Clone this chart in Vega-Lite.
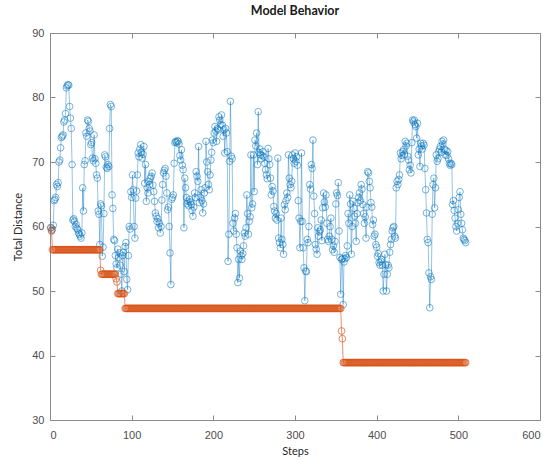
{
"$schema": "https://vega.github.io/schema/vega-lite/v6.json",
"width": 490, "height": 387,
"autosize": "none",
"padding": {"left": 50, "top": 33, "right": 15, "bottom": 42},
"title": {"text": "Model Behavior", "font": "Lato", "fontSize": 12.5, "fontWeight": "bold", "color": "#1a1a1a", "offset": 10},
"config": {
  "view": {"stroke": "#8c8c8c", "strokeWidth": 1},
  "axis": {"domain": false, "grid": false, "tickColor": "#8c8c8c", "tickSize": -5, "labelFont": "Liberation Sans", "labelFontSize": 11, "labelColor": "#4d4d4d", "titleFont": "Lato", "titleFontSize": 11, "titleFontWeight": "normal", "titleColor": "#262626"}
},
"data": {"values": [
{"s":1,"b":59.8,"o":59.8},{"s":2,"b":59.4,"o":59.3},{"s":3,"b":59.6,"o":56.4},{"s":4,"b":60.2,"o":56.4},{"s":5,"b":64.0,"o":56.4},{"s":6,"b":64.2,"o":56.4},{"s":7,"b":64.5,"o":56.4},{"s":8,"b":66.5,"o":56.4},{"s":9,"b":66.2,"o":56.4},{"s":10,"b":66.8,"o":56.4},
{"s":11,"b":70.0,"o":56.4},{"s":12,"b":70.3,"o":56.4},{"s":13,"b":72.2,"o":56.4},{"s":14,"b":73.8,"o":56.4},{"s":15,"b":74.0,"o":56.4},{"s":16,"b":74.2,"o":56.4},{"s":17,"b":76.2,"o":56.4},{"s":18,"b":76.5,"o":56.4},{"s":19,"b":77.5,"o":56.4},{"s":20,"b":81.5,"o":56.4},
{"s":21,"b":81.8,"o":56.4},{"s":22,"b":82.0,"o":56.4},{"s":23,"b":81.9,"o":56.4},{"s":24,"b":78.6,"o":56.4},{"s":25,"b":76.8,"o":56.4},{"s":26,"b":75.2,"o":56.4},{"s":27,"b":69.6,"o":56.4},{"s":28,"b":61.0,"o":56.4},{"s":29,"b":61.2,"o":56.4},{"s":30,"b":60.8,"o":56.4},
{"s":31,"b":60.0,"o":56.4},{"s":32,"b":60.3,"o":56.4},{"s":33,"b":59.7,"o":56.4},{"s":34,"b":59.5,"o":56.4},{"s":35,"b":59.0,"o":56.4},{"s":36,"b":58.8,"o":56.4},{"s":37,"b":58.5,"o":56.4},{"s":38,"b":58.2,"o":56.4},{"s":39,"b":59.0,"o":56.4},{"s":40,"b":66.0,"o":56.4},
{"s":41,"b":62.4,"o":56.4},{"s":42,"b":69.6,"o":56.4},{"s":43,"b":70.2,"o":56.4},{"s":44,"b":74.5,"o":56.4},{"s":45,"b":74.0,"o":56.4},{"s":46,"b":76.5,"o":56.4},{"s":47,"b":76.3,"o":56.4},{"s":48,"b":75.2,"o":56.4},{"s":49,"b":74.8,"o":56.4},{"s":50,"b":72.7,"o":56.4},
{"s":51,"b":73.0,"o":56.4},{"s":52,"b":70.6,"o":56.4},{"s":53,"b":70.2,"o":56.4},{"s":54,"b":74.2,"o":56.4},{"s":55,"b":70.5,"o":56.4},{"s":56,"b":69.8,"o":56.4},{"s":57,"b":68.0,"o":56.4},{"s":58,"b":67.5,"o":56.4},{"s":59,"b":62.4,"o":56.4},{"s":60,"b":61.9,"o":56.4},
{"s":61,"b":57.2,"o":56.4},{"s":62,"b":63.5,"o":53.2},{"s":63,"b":63.2,"o":52.6},{"s":64,"b":55.4,"o":52.6},{"s":65,"b":56.8,"o":52.6},{"s":66,"b":62.0,"o":52.6},{"s":67,"b":71.1,"o":52.6},{"s":68,"b":70.8,"o":52.6},{"s":69,"b":69.2,"o":52.6},{"s":70,"b":69.0,"o":52.6},
{"s":71,"b":69.6,"o":52.6},{"s":72,"b":69.3,"o":52.6},{"s":73,"b":75.2,"o":52.6},{"s":74,"b":78.9,"o":52.6},{"s":75,"b":78.6,"o":52.6},{"s":76,"b":64.9,"o":52.6},{"s":77,"b":62.8,"o":52.6},{"s":78,"b":58.0,"o":52.6},{"s":79,"b":57.8,"o":52.6},{"s":80,"b":55.5,"o":52.6},
{"s":81,"b":54.2,"o":51.9},{"s":82,"b":53.6,"o":51.4},{"s":83,"b":56.5,"o":49.6},{"s":84,"b":55.2,"o":49.6},{"s":85,"b":55.9,"o":49.6},{"s":86,"b":54.0,"o":49.6},{"s":87,"b":52.6,"o":49.6},{"s":88,"b":50.0,"o":49.6},{"s":89,"b":55.5,"o":49.6},{"s":90,"b":56.0,"o":49.6},
{"s":91,"b":53.0,"o":49.6},{"s":92,"b":56.9,"o":47.3},{"s":93,"b":57.5,"o":47.3},{"s":94,"b":51.8,"o":47.3},{"s":95,"b":50.2,"o":47.3},{"s":96,"b":55.5,"o":47.3},{"s":97,"b":60.0,"o":47.3},{"s":98,"b":59.6,"o":47.3},{"s":99,"b":65.4,"o":47.3},{"s":100,"b":64.5,"o":47.3},
{"s":101,"b":68.0,"o":47.3},{"s":102,"b":65.7,"o":47.3},{"s":103,"b":60.0,"o":47.3},{"s":104,"b":58.2,"o":47.3},{"s":105,"b":64.4,"o":47.3},{"s":106,"b":65.5,"o":47.3},{"s":107,"b":68.0,"o":47.3},{"s":108,"b":71.4,"o":47.3},{"s":109,"b":70.8,"o":47.3},{"s":110,"b":72.0,"o":47.3},
{"s":111,"b":72.7,"o":47.3},{"s":112,"b":71.5,"o":47.3},{"s":113,"b":70.6,"o":47.3},{"s":114,"b":71.2,"o":47.3},{"s":115,"b":72.4,"o":47.3},{"s":116,"b":66.7,"o":47.3},{"s":117,"b":69.6,"o":47.3},{"s":118,"b":63.9,"o":47.3},{"s":119,"b":66.0,"o":47.3},{"s":120,"b":65.2,"o":47.3},
{"s":121,"b":67.0,"o":47.3},{"s":122,"b":66.5,"o":47.3},{"s":123,"b":67.5,"o":47.3},{"s":124,"b":67.8,"o":47.3},{"s":125,"b":68.3,"o":47.3},{"s":126,"b":66.4,"o":47.3},{"s":127,"b":65.4,"o":47.3},{"s":128,"b":63.9,"o":47.3},{"s":129,"b":62.1,"o":47.3},{"s":130,"b":61.6,"o":47.3},
{"s":131,"b":60.8,"o":47.3},{"s":132,"b":61.2,"o":47.3},{"s":133,"b":59.8,"o":47.3},{"s":134,"b":60.5,"o":47.3},{"s":135,"b":59.0,"o":47.3},{"s":136,"b":60.0,"o":47.3},{"s":137,"b":64.1,"o":47.3},{"s":138,"b":66.5,"o":47.3},{"s":139,"b":68.3,"o":47.3},{"s":140,"b":68.7,"o":47.3},
{"s":141,"b":69.0,"o":47.3},{"s":142,"b":67.8,"o":47.3},{"s":143,"b":65.2,"o":47.3},{"s":144,"b":62.6,"o":47.3},{"s":145,"b":63.0,"o":47.3},{"s":146,"b":60.0,"o":47.3},{"s":147,"b":55.9,"o":47.3},{"s":148,"b":51.0,"o":47.3},{"s":149,"b":64.2,"o":47.3},{"s":150,"b":64.5,"o":47.3},
{"s":151,"b":64.9,"o":47.3},{"s":152,"b":69.8,"o":47.3},{"s":153,"b":73.0,"o":47.3},{"s":154,"b":73.2,"o":47.3},{"s":155,"b":73.0,"o":47.3},{"s":156,"b":73.3,"o":47.3},{"s":157,"b":73.2,"o":47.3},{"s":158,"b":72.8,"o":47.3},{"s":159,"b":71.0,"o":47.3},{"s":160,"b":70.3,"o":47.3},
{"s":161,"b":71.9,"o":47.3},{"s":162,"b":69.5,"o":47.3},{"s":163,"b":68.8,"o":47.3},{"s":164,"b":59.8,"o":47.3},{"s":165,"b":67.5,"o":47.3},{"s":166,"b":66.0,"o":47.3},{"s":167,"b":64.5,"o":47.3},{"s":168,"b":63.5,"o":47.3},{"s":169,"b":63.9,"o":47.3},{"s":170,"b":63.2,"o":47.3},
{"s":171,"b":64.2,"o":47.3},{"s":172,"b":63.8,"o":47.3},{"s":173,"b":63.4,"o":47.3},{"s":174,"b":62.5,"o":47.3},{"s":175,"b":61.6,"o":47.3},{"s":176,"b":63.0,"o":47.3},{"s":177,"b":65.2,"o":47.3},{"s":178,"b":64.5,"o":47.3},{"s":179,"b":68.5,"o":47.3},{"s":180,"b":67.8,"o":47.3},
{"s":181,"b":67.0,"o":47.3},{"s":182,"b":72.4,"o":47.3},{"s":183,"b":63.7,"o":47.3},{"s":184,"b":64.5,"o":47.3},{"s":185,"b":65.7,"o":47.3},{"s":186,"b":64.0,"o":47.3},{"s":187,"b":62.1,"o":47.3},{"s":188,"b":63.5,"o":47.3},{"s":189,"b":65.2,"o":47.3},{"s":190,"b":66.0,"o":47.3},
{"s":191,"b":73.2,"o":47.3},{"s":192,"b":70.0,"o":47.3},{"s":193,"b":68.5,"o":47.3},{"s":194,"b":66.5,"o":47.3},{"s":195,"b":65.7,"o":47.3},{"s":196,"b":68.0,"o":47.3},{"s":197,"b":70.3,"o":47.3},{"s":198,"b":71.5,"o":47.3},{"s":199,"b":73.4,"o":47.3},{"s":200,"b":73.0,"o":47.3},
{"s":201,"b":74.5,"o":47.3},{"s":202,"b":75.5,"o":47.3},{"s":203,"b":74.8,"o":47.3},{"s":204,"b":73.2,"o":47.3},{"s":205,"b":75.2,"o":47.3},{"s":206,"b":75.0,"o":47.3},{"s":207,"b":77.0,"o":47.3},{"s":208,"b":76.5,"o":47.3},{"s":209,"b":75.8,"o":47.3},{"s":210,"b":77.3,"o":47.3},
{"s":211,"b":75.7,"o":47.3},{"s":212,"b":74.0,"o":47.3},{"s":213,"b":75.0,"o":47.3},{"s":214,"b":71.4,"o":47.3},{"s":215,"b":75.2,"o":47.3},{"s":216,"b":74.5,"o":47.3},{"s":217,"b":71.6,"o":47.3},{"s":218,"b":54.6,"o":47.3},{"s":219,"b":58.8,"o":47.3},{"s":220,"b":70.1,"o":47.3},
{"s":221,"b":79.4,"o":47.3},{"s":222,"b":70.9,"o":47.3},{"s":223,"b":70.5,"o":47.3},{"s":224,"b":60.5,"o":47.3},{"s":225,"b":59.3,"o":47.3},{"s":226,"b":61.3,"o":47.3},{"s":227,"b":62.0,"o":47.3},{"s":228,"b":58.8,"o":47.3},{"s":229,"b":56.7,"o":47.3},{"s":230,"b":51.3,"o":47.3},
{"s":231,"b":54.9,"o":47.3},{"s":232,"b":52.0,"o":47.3},{"s":233,"b":56.2,"o":47.3},{"s":234,"b":55.5,"o":47.3},{"s":235,"b":54.9,"o":47.3},{"s":236,"b":55.8,"o":47.3},{"s":237,"b":57.0,"o":47.3},{"s":238,"b":59.0,"o":47.3},{"s":239,"b":58.5,"o":47.3},{"s":240,"b":59.8,"o":47.3},
{"s":241,"b":64.9,"o":47.3},{"s":242,"b":62.0,"o":47.3},{"s":243,"b":58.8,"o":47.3},{"s":244,"b":60.8,"o":47.3},{"s":245,"b":61.5,"o":47.3},{"s":246,"b":71.1,"o":47.3},{"s":247,"b":62.9,"o":47.3},{"s":248,"b":63.5,"o":47.3},{"s":249,"b":71.1,"o":47.3},{"s":250,"b":65.4,"o":47.3},
{"s":251,"b":73.4,"o":47.3},{"s":252,"b":72.5,"o":47.3},{"s":253,"b":74.5,"o":47.3},{"s":254,"b":69.6,"o":47.3},{"s":255,"b":77.8,"o":47.3},{"s":256,"b":71.5,"o":47.3},{"s":257,"b":72.0,"o":47.3},{"s":258,"b":71.1,"o":47.3},{"s":259,"b":70.5,"o":47.3},{"s":260,"b":71.0,"o":47.3},
{"s":261,"b":71.6,"o":47.3},{"s":262,"b":70.8,"o":47.3},{"s":263,"b":69.8,"o":47.3},{"s":264,"b":68.8,"o":47.3},{"s":265,"b":68.0,"o":47.3},{"s":266,"b":67.4,"o":47.3},{"s":267,"b":72.1,"o":47.3},{"s":268,"b":70.5,"o":47.3},{"s":269,"b":69.6,"o":47.3},{"s":270,"b":67.5,"o":47.3},
{"s":271,"b":64.9,"o":47.3},{"s":272,"b":66.2,"o":47.3},{"s":273,"b":65.5,"o":47.3},{"s":274,"b":63.1,"o":47.3},{"s":275,"b":62.4,"o":47.3},{"s":276,"b":61.3,"o":47.3},{"s":277,"b":62.0,"o":47.3},{"s":278,"b":61.0,"o":47.3},{"s":279,"b":70.6,"o":47.3},{"s":280,"b":58.2,"o":47.3},
{"s":281,"b":57.5,"o":47.3},{"s":282,"b":56.7,"o":47.3},{"s":283,"b":61.3,"o":47.3},{"s":284,"b":58.0,"o":47.3},{"s":285,"b":57.2,"o":47.3},{"s":286,"b":55.7,"o":47.3},{"s":287,"b":63.4,"o":47.3},{"s":288,"b":62.6,"o":47.3},{"s":289,"b":64.0,"o":47.3},{"s":290,"b":65.2,"o":47.3},
{"s":291,"b":64.5,"o":47.3},{"s":292,"b":71.1,"o":47.3},{"s":293,"b":67.5,"o":47.3},{"s":294,"b":66.5,"o":47.3},{"s":295,"b":66.0,"o":47.3},{"s":296,"b":67.0,"o":47.3},{"s":297,"b":71.1,"o":47.3},{"s":298,"b":70.5,"o":47.3},{"s":299,"b":69.8,"o":47.3},{"s":300,"b":71.4,"o":47.3},
{"s":301,"b":70.1,"o":47.3},{"s":302,"b":70.8,"o":47.3},{"s":303,"b":69.5,"o":47.3},{"s":304,"b":64.0,"o":47.3},{"s":305,"b":61.3,"o":47.3},{"s":306,"b":56.7,"o":47.3},{"s":307,"b":60.8,"o":47.3},{"s":308,"b":71.4,"o":47.3},{"s":309,"b":60.8,"o":47.3},{"s":310,"b":56.7,"o":47.3},
{"s":311,"b":53.6,"o":47.3},{"s":312,"b":48.5,"o":47.3},{"s":313,"b":53.1,"o":47.3},{"s":314,"b":53.0,"o":47.3},{"s":315,"b":58.0,"o":47.3},{"s":316,"b":57.5,"o":47.3},{"s":317,"b":60.0,"o":47.3},{"s":318,"b":66.5,"o":47.3},{"s":319,"b":65.8,"o":47.3},{"s":320,"b":69.6,"o":47.3},
{"s":321,"b":69.0,"o":47.3},{"s":322,"b":73.4,"o":47.3},{"s":323,"b":64.7,"o":47.3},{"s":324,"b":62.0,"o":47.3},{"s":325,"b":57.2,"o":47.3},{"s":326,"b":56.5,"o":47.3},{"s":327,"b":55.7,"o":47.3},{"s":328,"b":59.8,"o":47.3},{"s":329,"b":58.5,"o":47.3},{"s":330,"b":59.2,"o":47.3},
{"s":331,"b":59.5,"o":47.3},{"s":332,"b":61.0,"o":47.3},{"s":333,"b":57.8,"o":47.3},{"s":334,"b":62.9,"o":47.3},{"s":335,"b":65.2,"o":47.3},{"s":336,"b":63.8,"o":47.3},{"s":337,"b":63.0,"o":47.3},{"s":338,"b":64.9,"o":47.3},{"s":339,"b":60.5,"o":47.3},{"s":340,"b":58.0,"o":47.3},
{"s":341,"b":57.7,"o":47.3},{"s":342,"b":58.5,"o":47.3},{"s":343,"b":60.0,"o":47.3},{"s":344,"b":61.3,"o":47.3},{"s":345,"b":58.0,"o":47.3},{"s":346,"b":56.4,"o":47.3},{"s":347,"b":57.0,"o":47.3},{"s":348,"b":56.0,"o":47.3},{"s":349,"b":57.7,"o":47.3},{"s":350,"b":63.5,"o":47.3},
{"s":351,"b":65.2,"o":47.3},{"s":352,"b":64.8,"o":47.3},{"s":353,"b":66.8,"o":47.3},{"s":354,"b":59.3,"o":47.3},{"s":355,"b":55.2,"o":47.3},{"s":356,"b":49.5,"o":47.3},{"s":357,"b":54.9,"o":43.8},{"s":358,"b":55.0,"o":42.6},{"s":359,"b":47.9,"o":38.9},{"s":360,"b":54.5,"o":38.9},
{"s":361,"b":55.0,"o":38.9},{"s":362,"b":55.5,"o":38.9},{"s":363,"b":55.2,"o":38.9},{"s":364,"b":57.0,"o":38.9},{"s":365,"b":62.0,"o":38.9},{"s":366,"b":60.5,"o":38.9},{"s":367,"b":64.9,"o":38.9},{"s":368,"b":63.5,"o":38.9},{"s":369,"b":55.7,"o":38.9},{"s":370,"b":60.0,"o":38.9},
{"s":371,"b":63.9,"o":38.9},{"s":372,"b":62.8,"o":38.9},{"s":373,"b":61.6,"o":38.9},{"s":374,"b":60.5,"o":38.9},{"s":375,"b":57.7,"o":38.9},{"s":376,"b":62.0,"o":38.9},{"s":377,"b":63.7,"o":38.9},{"s":378,"b":64.5,"o":38.9},{"s":379,"b":65.2,"o":38.9},{"s":380,"b":64.0,"o":38.9},
{"s":381,"b":66.5,"o":38.9},{"s":382,"b":65.8,"o":38.9},{"s":383,"b":63.4,"o":38.9},{"s":384,"b":62.0,"o":38.9},{"s":385,"b":60.5,"o":38.9},{"s":386,"b":61.5,"o":38.9},{"s":387,"b":58.2,"o":38.9},{"s":388,"b":63.0,"o":38.9},{"s":389,"b":68.5,"o":38.9},{"s":390,"b":68.3,"o":38.9},
{"s":391,"b":67.0,"o":38.9},{"s":392,"b":66.0,"o":38.9},{"s":393,"b":63.7,"o":38.9},{"s":394,"b":63.0,"o":38.9},{"s":395,"b":60.3,"o":38.9},{"s":396,"b":61.0,"o":38.9},{"s":397,"b":58.5,"o":38.9},{"s":398,"b":58.8,"o":38.9},{"s":399,"b":57.2,"o":38.9},{"s":400,"b":56.8,"o":38.9},
{"s":401,"b":55.4,"o":38.9},{"s":402,"b":55.8,"o":38.9},{"s":403,"b":54.4,"o":38.9},{"s":404,"b":54.0,"o":38.9},{"s":405,"b":54.6,"o":38.9},{"s":406,"b":54.9,"o":38.9},{"s":407,"b":54.0,"o":38.9},{"s":408,"b":50.0,"o":38.9},{"s":409,"b":52.6,"o":38.9},{"s":410,"b":55.7,"o":38.9},
{"s":411,"b":54.1,"o":38.9},{"s":412,"b":50.0,"o":38.9},{"s":413,"b":52.6,"o":38.9},{"s":414,"b":54.0,"o":38.9},{"s":415,"b":53.6,"o":38.9},{"s":416,"b":56.0,"o":38.9},{"s":417,"b":57.2,"o":38.9},{"s":418,"b":58.0,"o":38.9},{"s":419,"b":59.3,"o":38.9},{"s":420,"b":59.8,"o":38.9},
{"s":421,"b":60.0,"o":38.9},{"s":422,"b":58.5,"o":38.9},{"s":423,"b":58.2,"o":38.9},{"s":424,"b":66.0,"o":38.9},{"s":425,"b":67.0,"o":38.9},{"s":426,"b":66.5,"o":38.9},{"s":427,"b":67.3,"o":38.9},{"s":428,"b":68.0,"o":38.9},{"s":429,"b":71.4,"o":38.9},{"s":430,"b":70.5,"o":38.9},
{"s":431,"b":71.0,"o":38.9},{"s":432,"b":71.6,"o":38.9},{"s":433,"b":71.9,"o":38.9},{"s":434,"b":71.2,"o":38.9},{"s":435,"b":73.2,"o":38.9},{"s":436,"b":72.5,"o":38.9},{"s":437,"b":72.9,"o":38.9},{"s":438,"b":70.9,"o":38.9},{"s":439,"b":70.3,"o":38.9},{"s":440,"b":68.8,"o":38.9},
{"s":441,"b":69.5,"o":38.9},{"s":442,"b":68.3,"o":38.9},{"s":443,"b":73.0,"o":38.9},{"s":444,"b":76.5,"o":38.9},{"s":445,"b":76.2,"o":38.9},{"s":446,"b":76.5,"o":38.9},{"s":447,"b":75.8,"o":38.9},{"s":448,"b":75.5,"o":38.9},{"s":449,"b":73.7,"o":38.9},{"s":450,"b":76.0,"o":38.9},
{"s":451,"b":71.1,"o":38.9},{"s":452,"b":72.0,"o":38.9},{"s":453,"b":69.3,"o":38.9},{"s":454,"b":72.9,"o":38.9},{"s":455,"b":72.5,"o":38.9},{"s":456,"b":72.0,"o":38.9},{"s":457,"b":72.9,"o":38.9},{"s":458,"b":72.6,"o":38.9},{"s":459,"b":69.0,"o":38.9},{"s":460,"b":65.7,"o":38.9},
{"s":461,"b":62.1,"o":38.9},{"s":462,"b":58.0,"o":38.9},{"s":463,"b":57.5,"o":38.9},{"s":464,"b":52.8,"o":38.9},{"s":465,"b":47.4,"o":38.9},{"s":466,"b":52.2,"o":38.9},{"s":467,"b":51.8,"o":38.9},{"s":468,"b":61.9,"o":38.9},{"s":469,"b":66.5,"o":38.9},{"s":470,"b":67.5,"o":38.9},
{"s":471,"b":62.9,"o":38.9},{"s":472,"b":66.0,"o":38.9},{"s":473,"b":71.1,"o":38.9},{"s":474,"b":70.1,"o":38.9},{"s":475,"b":70.5,"o":38.9},{"s":476,"b":71.6,"o":38.9},{"s":477,"b":72.0,"o":38.9},{"s":478,"b":72.4,"o":38.9},{"s":479,"b":71.5,"o":38.9},{"s":480,"b":73.2,"o":38.9},
{"s":481,"b":72.8,"o":38.9},{"s":482,"b":73.4,"o":38.9},{"s":483,"b":72.0,"o":38.9},{"s":484,"b":71.1,"o":38.9},{"s":485,"b":71.8,"o":38.9},{"s":486,"b":71.0,"o":38.9},{"s":487,"b":71.6,"o":38.9},{"s":488,"b":70.5,"o":38.9},{"s":489,"b":69.8,"o":38.9},{"s":490,"b":69.5,"o":38.9},
{"s":491,"b":69.8,"o":38.9},{"s":492,"b":69.6,"o":38.9},{"s":493,"b":63.4,"o":38.9},{"s":494,"b":64.0,"o":38.9},{"s":495,"b":62.5,"o":38.9},{"s":496,"b":61.3,"o":38.9},{"s":497,"b":60.0,"o":38.9},{"s":498,"b":59.3,"o":38.9},{"s":499,"b":60.5,"o":38.9},{"s":500,"b":62.6,"o":38.9},
{"s":501,"b":64.5,"o":38.9},{"s":502,"b":65.4,"o":38.9},{"s":503,"b":61.9,"o":38.9},{"s":504,"b":60.5,"o":38.9},{"s":505,"b":59.5,"o":38.9},{"s":506,"b":58.2,"o":38.9},{"s":507,"b":58.0,"o":38.9},{"s":508,"b":57.8,"o":38.9},{"s":509,"b":57.5,"o":38.9}
]},
"layer": [
  {"mark": {"type": "line", "color": "#0072BD", "strokeWidth": 0.7, "opacity": 0.6},
   "encoding": {
     "x": {"field": "s", "type": "quantitative", "scale": {"domain": [0, 600], "nice": false}, "axis": {"orient": "bottom", "values": [0,100,200,300,400,500,600], "labelPadding": 14, "title": "Steps", "titlePadding": 5}},
     "y": {"field": "b", "type": "quantitative", "scale": {"domain": [30, 90], "nice": false, "zero": false}, "axis": {"orient": "left", "values": [30,40,50,60,70,80,90], "labelPadding": 11, "title": "Total Distance", "titlePadding": 8}}
   }},
  {"mark": {"type": "point", "shape": "circle", "filled": false, "color": "#0072BD", "size": 44, "strokeWidth": 0.9, "opacity": 0.6},
   "encoding": {
     "x": {"field": "s", "type": "quantitative", "scale": {"domain": [0, 600], "nice": false}, "axis": {"orient": "top", "values": [0,100,200,300,400,500,600], "labels": false, "title": null}},
     "y": {"field": "b", "type": "quantitative", "scale": {"domain": [30, 90], "nice": false, "zero": false}, "axis": {"orient": "right", "values": [30,40,50,60,70,80,90], "labels": false, "title": null}}
   }},
  {"mark": {"type": "line", "color": "#D95319", "strokeWidth": 0.8, "opacity": 0.8},
   "encoding": {
     "x": {"field": "s", "type": "quantitative", "scale": {"domain": [0, 600], "nice": false}, "axis": null},
     "y": {"field": "o", "type": "quantitative", "scale": {"domain": [30, 90], "nice": false, "zero": false}, "axis": null}
   }},
  {"mark": {"type": "point", "shape": "circle", "filled": false, "color": "#D95319", "size": 46, "strokeWidth": 0.9, "opacity": 0.75},
   "encoding": {
     "x": {"field": "s", "type": "quantitative", "scale": {"domain": [0, 600], "nice": false}, "axis": null},
     "y": {"field": "o", "type": "quantitative", "scale": {"domain": [30, 90], "nice": false, "zero": false}, "axis": null}
   }}
],
"resolve": {"axis": {"x": "independent", "y": "independent"}}
}
